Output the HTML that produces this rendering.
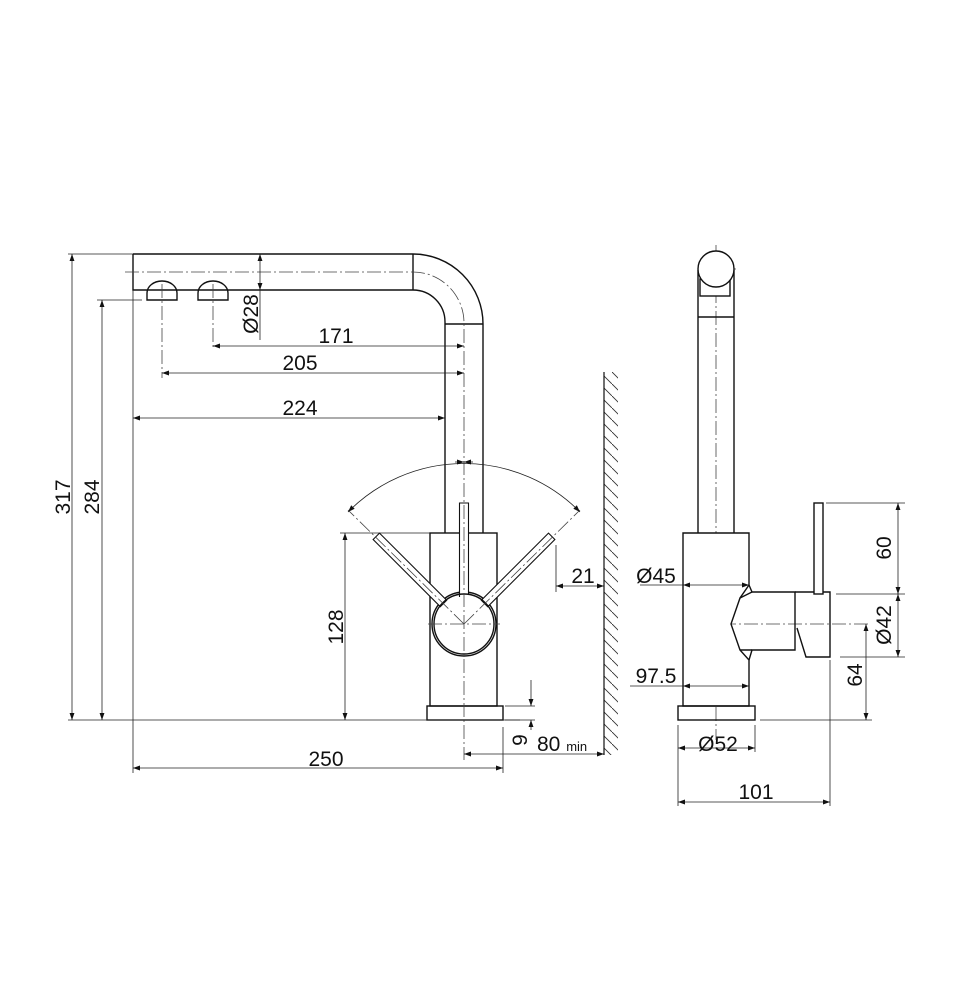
<!DOCTYPE html>
<html><head><meta charset="utf-8"><style>
html,body{margin:0;padding:0;background:#fff;}
svg{display:block;}
text{font-family:"Liberation Sans",Arial,sans-serif;font-size:21px;fill:#111;}
</style></head><body>
<svg width="966" height="1000" viewBox="0 0 966 1000" xmlns="http://www.w3.org/2000/svg">
<defs>
<marker id="a" viewBox="0 0 10 10" refX="10" refY="5" markerWidth="9" markerHeight="7" orient="auto-start-reverse" markerUnits="userSpaceOnUse"><path d="M0,1.5 L10,5 L0,8.5 z" fill="#111"/></marker>
<pattern id="h" width="12" height="12" patternUnits="userSpaceOnUse"><path d="M0,0 L12,12" stroke="#333" stroke-width="0.9"/></pattern>
</defs>
<g fill="none" stroke="#111" stroke-width="1.4">
<path d="M133,254 H413 A70,70 0 0 1 483,324 V533"/>
<path d="M133,254 V290 H413 A32,32 0 0 1 445,322 V533"/>
<line x1="413" y1="254" x2="413" y2="290"/>
<line x1="445" y1="324" x2="483" y2="324"/>
<path d="M147,300 V293 A15,12 0 0 1 177,293 V300 Z" />
<path d="M198,300 V293 A15,12 0 0 1 228,293 V300 Z" />
<rect x="430" y="533" width="67" height="173"/>
<rect x="427" y="706" width="76" height="14"/>
<circle cx="464" cy="624" r="32" fill="#fff"/>
<g stroke-width="1.1">
<path d="M459.5,597 V503 H468.5 V594" fill="#fff"/>
<g transform="rotate(-45 464 624)"><rect x="459.5" y="500" width="9" height="95" fill="#fff"/></g>
<g transform="rotate(45 464 624)"><rect x="459.5" y="500" width="9" height="95" fill="#fff"/></g>
</g>
<circle cx="464" cy="624" r="30"/>
</g>
<g fill="none" stroke="#444" stroke-width="0.8" stroke-dasharray="14,3,2,3">
<path d="M125,272 H413 A51,51 0 0 1 464,323 V760"/>
<line x1="162" y1="284" x2="162" y2="378"/>
<line x1="213" y1="284" x2="213" y2="350"/>
<line x1="428" y1="624" x2="500" y2="624"/>
<line x1="464" y1="624" x2="348" y2="510"/>
<line x1="464" y1="624" x2="580" y2="510"/>
<line x1="716" y1="245" x2="716" y2="740"/>
<line x1="700" y1="269" x2="738" y2="269"/>
<line x1="700" y1="624" x2="870" y2="624"/>
</g>
<g fill="none" stroke="#222" stroke-width="0.8">
<line x1="68" y1="254" x2="133" y2="254"/>
<line x1="97" y1="300" x2="142" y2="300"/>
<line x1="68" y1="720" x2="520" y2="720"/>
<line x1="72" y1="254" x2="72" y2="720" marker-start="url(#a)" marker-end="url(#a)"/>
<line x1="102" y1="300" x2="102" y2="720" marker-start="url(#a)" marker-end="url(#a)"/>
<line x1="260" y1="254" x2="260" y2="290" marker-start="url(#a)" marker-end="url(#a)"/>
<line x1="260" y1="290" x2="260" y2="340"/>
<line x1="213" y1="346" x2="464" y2="346" marker-start="url(#a)" marker-end="url(#a)"/>
<line x1="162" y1="373" x2="464" y2="373" marker-start="url(#a)" marker-end="url(#a)"/>
<line x1="133" y1="418" x2="445" y2="418" marker-start="url(#a)" marker-end="url(#a)"/>
<line x1="133" y1="290" x2="133" y2="773"/>
<line x1="503" y1="727" x2="503" y2="773"/>
<line x1="133" y1="768" x2="503" y2="768" marker-start="url(#a)" marker-end="url(#a)"/>
<line x1="340" y1="533" x2="430" y2="533"/>
<line x1="345" y1="533" x2="345" y2="720" marker-start="url(#a)" marker-end="url(#a)"/>
<path d="M348,512 A163,163 0 0 1 580,512" marker-start="url(#a)" marker-end="url(#a)"/>
<line x1="455" y1="462" x2="464" y2="462" marker-end="url(#a)"/>
<line x1="473" y1="462" x2="464" y2="462" marker-end="url(#a)"/>
<line x1="556" y1="545" x2="556" y2="592"/>
<line x1="556" y1="586" x2="604" y2="586" marker-start="url(#a)" marker-end="url(#a)"/>
<line x1="464" y1="754" x2="604" y2="754" marker-start="url(#a)" marker-end="url(#a)"/>
<line x1="505" y1="706" x2="535" y2="706"/>
<line x1="505" y1="720" x2="535" y2="720"/>
<line x1="531" y1="680" x2="531" y2="706" marker-end="url(#a)"/>
<line x1="531" y1="730" x2="531" y2="720" marker-end="url(#a)"/>
</g>
<rect x="604" y="372" width="14" height="383" fill="url(#h)"/>
<line x1="604" y1="372" x2="604" y2="755" stroke="#111" stroke-width="1.2"/>
<g fill="none" stroke="#111" stroke-width="1.4">
<line x1="698" y1="270" x2="698" y2="533"/>
<line x1="734" y1="270" x2="734" y2="533"/>
<line x1="698" y1="317" x2="734" y2="317"/>
<rect x="700" y="279" width="30" height="17" fill="#fff"/>
<circle cx="716" cy="269" r="18" fill="#fff"/>
<path d="M683,533 H749 V585 L740,598 L731,624 L740,650 L749,660 V706 H683 Z" fill="#fff"/>
<path d="M749,585 L752,592 H795 V650 H752 L749,660"/>
<path d="M740,598 L752,592 M740,650 L752,650"/>
<path d="M795,592 H830 V657 H806 L797,628"/>
<rect x="814" y="503" width="9" height="91" fill="#fff"/>
<rect x="678" y="706" width="77" height="14"/>
</g>
<g fill="none" stroke="#222" stroke-width="0.8">
<line x1="683" y1="585" x2="749" y2="585" marker-start="url(#a)" marker-end="url(#a)"/>
<line x1="683" y1="686" x2="749" y2="686" marker-start="url(#a)" marker-end="url(#a)"/>
<line x1="640" y1="585" x2="683" y2="585"/>
<line x1="630" y1="686" x2="683" y2="686"/>
<line x1="678" y1="725" x2="678" y2="806"/>
<line x1="755" y1="725" x2="755" y2="752"/>
<line x1="830" y1="660" x2="830" y2="806"/>
<line x1="678" y1="748" x2="755" y2="748" marker-start="url(#a)" marker-end="url(#a)"/>
<line x1="678" y1="802" x2="830" y2="802" marker-start="url(#a)" marker-end="url(#a)"/>
<line x1="826" y1="503" x2="905" y2="503"/>
<line x1="836" y1="594" x2="905" y2="594"/>
<line x1="840" y1="657" x2="905" y2="657"/>
<line x1="760" y1="720" x2="872" y2="720"/>
<line x1="898" y1="503" x2="898" y2="594" marker-start="url(#a)" marker-end="url(#a)"/>
<line x1="898" y1="594" x2="898" y2="657" marker-start="url(#a)" marker-end="url(#a)"/>
<line x1="866" y1="624" x2="866" y2="720" marker-start="url(#a)" marker-end="url(#a)"/>
</g>
<text x="336" y="343" text-anchor="middle">171</text>
<text x="300" y="370" text-anchor="middle">205</text>
<text x="300" y="415" text-anchor="middle">224</text>
<text x="326" y="766" text-anchor="middle">250</text>
<text x="583" y="583" text-anchor="middle">21</text>
<text x="537" y="751">80 <tspan font-size="13">min</tspan></text>
<text transform="translate(70,497) rotate(-90)" text-anchor="middle">317</text>
<text transform="translate(99,497) rotate(-90)" text-anchor="middle">284</text>
<text transform="translate(258,314) rotate(-90)" text-anchor="middle">Ø28</text>
<text transform="translate(343,627) rotate(-90)" text-anchor="middle">128</text>
<text transform="translate(527,740) rotate(-90)" text-anchor="middle">9</text>
<text x="656" y="583" text-anchor="middle">Ø45</text>
<text x="656" y="683" text-anchor="middle">97.5</text>
<text x="718" y="751" text-anchor="middle">Ø52</text>
<text x="756" y="799" text-anchor="middle">101</text>
<text transform="translate(891,548) rotate(-90)" text-anchor="middle">60</text>
<text transform="translate(891,625) rotate(-90)" text-anchor="middle">Ø42</text>
<text transform="translate(862,675) rotate(-90)" text-anchor="middle">64</text>
</svg>
</body></html>
